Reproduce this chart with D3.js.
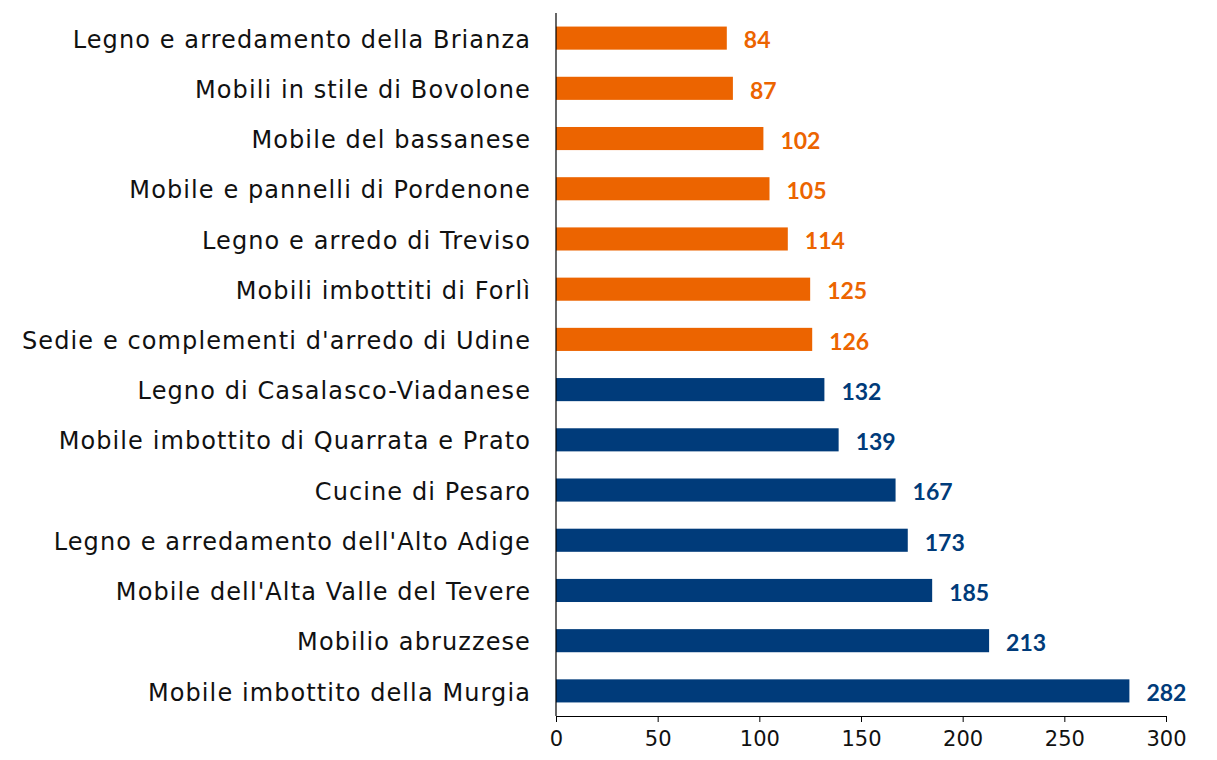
<!DOCTYPE html>
<html>
<head>
<meta charset="utf-8">
<script src="https://cdn.jsdelivr.net/npm/d3@7"></script>
<style>
  body { margin: 0; background: #fff; }
  svg text { font-family: "Lato", "Open Sans", sans-serif; }
</style>
</head>
<body>
<div id="chart"></div>
<script>
// districts, top to bottom
var districts = [
  "Legno e arredamento della Brianza",
  "Mobili in stile di Bovolone",
  "Mobile del bassanese",
  "Mobile e pannelli di Pordenone",
  "Legno e arredo di Treviso",
  "Mobili imbottiti di Forlì",
  "Sedie e complementi d'arredo di Udine",
  "Legno di Casalasco-Viadanese",
  "Mobile imbottito di Quarrata e Prato",
  "Cucine di Pesaro",
  "Legno e arredamento dell'Alto Adige",
  "Mobile dell'Alta Valle del Tevere",
  "Mobilio abruzzese",
  "Mobile imbottito della Murgia"
]
var values = [84, 87, 102, 105, 114, 125, 126, 132, 139, 167, 173, 185, 213, 282]
// first seven in orange, the rest in blue
var groups = ["o", "o", "o", "o", "o", "o", "o", "b", "b", "b", "b", "b", "b", "b"]
var xTicks = [0, 50, 100, 150, 200, 250, 300]

var colors = { o: "#EC6400", b: "#003B7A" }

var width = 1217, height = 760
var margin = { top: 13, right: 51, bottom: 44, left: 556 }

var svg = d3.select("#chart")
  .append("svg")
  .attr("width", width)
  .attr("height", height)

var x = d3.scaleLinear()
  .domain([0, 300])
  .range([margin.left, width - margin.right])

var y = d3.scaleBand()
  .domain(districts)
  .range([margin.top, height - margin.bottom])
  .paddingInner(0.54)
  .paddingOuter(0.27)

var data = districts.map((d, i) => ({ name: d, value: values[i], group: groups[i] }))

// bars
svg.append("g")
  .selectAll("rect")
  .data(data)
  .enter()
  .append("rect")
  .attr("x", x(0))
  .attr("y", d => y(d.name))
  .attr("width", d => x(d.value) - x(0))
  .attr("height", y.bandwidth())
  .style("fill", d => colors[d.group])

// value labels
svg.append("g")
  .selectAll("text")
  .data(data)
  .enter()
  .append("text")
  .attr("x", d => x(d.value) + 17)
  .attr("y", d => y(d.name) + y.bandwidth() / 2 + 2)
  .attr("dy", "0.36em")
  .style("font-size", "23px")
  .style("font-weight", "bold")
  .style("fill", d => colors[d.group])
  .text(d => d.value)

// category labels
svg.append("g")
  .selectAll("text")
  .data(data)
  .enter()
  .append("text")
  .attr("x", margin.left - 25)
  .attr("y", d => y(d.name) + y.bandwidth() / 2 + 1)
  .attr("dy", "0.36em")
  .attr("text-anchor", "end")
  .style("font-size", "24px")
  .style("letter-spacing", "1.1px")
  .style("font-family", "'DejaVu Sans', sans-serif")
  .style("fill", "#111")
  .text(d => d.name)

// vertical axis line
svg.append("line")
  .attr("x1", x(0)).attr("x2", x(0))
  .attr("y1", margin.top).attr("y2", height - margin.bottom)
  .style("stroke", "#000")
  .style("stroke-width", 1.2)

// bottom axis
var xAxis = svg.append("g")
  .attr("transform", "translate(0," + (height - margin.bottom) + ")")
  .call(d3.axisBottom(x).tickValues(xTicks).tickSize(6).tickSizeOuter(0).tickPadding(9))

xAxis.select(".domain").style("stroke", "#000").style("stroke-width", 1.2)
xAxis.selectAll(".tick line").style("stroke", "#000")
xAxis.selectAll("text")
  .style("font-size", "21px")
  .style("fill", "#111")
  .style("font-family", "'DejaVu Sans', sans-serif")
</script>
</body>
</html>
